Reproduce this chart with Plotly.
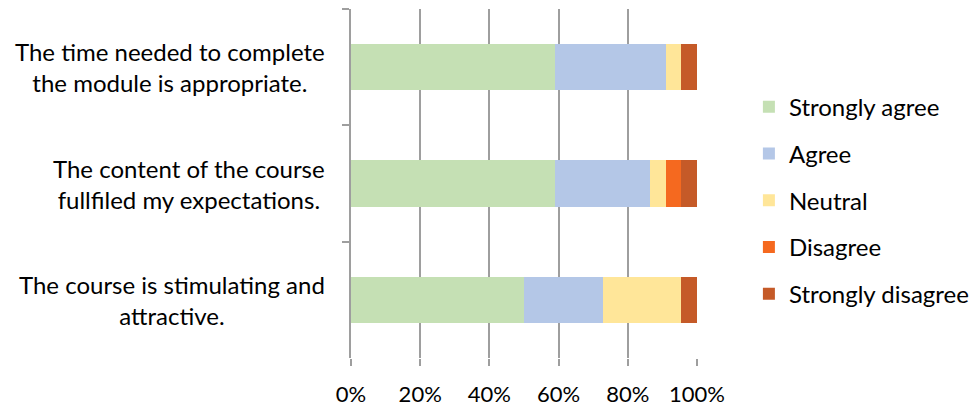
import plotly.graph_objects as go

# Survey statements (top to bottom) and share of responses per answer
statements = [
    "The time needed to complete<br>the module is appropriate.",
    "The content of the course<br>fullfiled my expectations.",
    "The course is stimulating and<br>attractive.",
]
answers = ["Strongly agree", "Agree", "Neutral", "Disagree", "Strongly disagree"]
strongly_agree = [0.591, 0.591, 0.500]
agree = [0.318, 0.273, 0.227]
neutral = [0.045, 0.045, 0.227]
disagree = [0.000, 0.045, 0.000]
strongly_disagree = [0.045, 0.045, 0.045]
x_ticks = [0, 0.2, 0.4, 0.6, 0.8, 1.0]

series = [strongly_agree, agree, neutral, disagree, strongly_disagree]
colors = ["#C5E0B4", "#B4C7E7", "#FFE699", "#F5691F", "#C55A28"]

FONT = "Lato"
GRID = "#9E9E9E"

fig = go.Figure()
for i, (name, vals, col) in enumerate(zip(answers, series, colors)):
    fig.add_trace(go.Bar(
        y=statements, x=vals, name=name, orientation="h",
        marker=dict(color=col, line=dict(width=0)),
        legendgroup=f"g{i}",
    ))

# Statement labels, centred line by line, right of them the axis
for s in statements:
    fig.add_annotation(
        x=-0.07, xref="paper", y=s, yref="y", text=s, showarrow=False,
        xanchor="right", yanchor="middle", align="center",
        font=dict(family=FONT, size=24, color="#000000"),
    )

fig.update_layout(
    width=975, height=407,
    margin=dict(l=351, r=278, t=9, b=49, autoexpand=False),
    paper_bgcolor="white", plot_bgcolor="white",
    barmode="stack", bargap=0.6,
    font=dict(family=FONT, size=24, color="#000000"),
    legend=dict(
        x=1.15, xanchor="left", y=0.783, yanchor="top",
        traceorder="grouped", tracegroupgap=12.5,
        font=dict(family=FONT, size=24, color="#000000"),
        bgcolor="rgba(0,0,0,0)",
    ),
    xaxis=dict(
        range=[0, 1], tickvals=x_ticks, tickformat=".0%",
        showgrid=True, gridcolor=GRID, gridwidth=1.6,
        ticks="outside", ticklen=7, tickcolor=GRID, tickwidth=1.6,
        showline=False, zeroline=False, ticklabelstandoff=10,
        tickfont=dict(family=FONT, size=22, color="#000000"),
    ),
    yaxis=dict(
        type="category", autorange="reversed",
        tickson="boundaries", ticks="outside", ticklen=7,
        tickcolor=GRID, tickwidth=1.6,
        showline=True, linecolor=GRID, linewidth=1.6,
        showgrid=False, showticklabels=False,
    ),
)

fig.write_html("out.html")
